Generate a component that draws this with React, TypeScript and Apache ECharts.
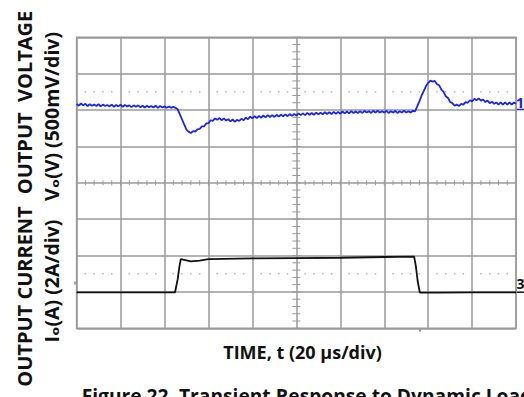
import React, { useEffect, useRef } from "react";
import * as echarts from "echarts";

// Scope screen: 10 horizontal divisions (20 µs/div), 8 vertical divisions
const X_DIVS = 10;
const Y_DIVS = 8;
const MINOR_PER_DIV = 5;
const CENTER_X = 5;
const CENTER_Y = 4;
const DOTTED_LEVELS = [6.5, 1.5];

// Channel 1 (output voltage), sampled every 0.05 div, values in divisions
const BLUE_STEP = 0.05;
const blueValues = [
  6.17, 6.12, 6.18, 6.13, 6.17, 6.11, 6.16, 6.12, 6.15, 6.11,
  6.16, 6.10, 6.15, 6.11, 6.14, 6.10, 6.15, 6.09, 6.14, 6.10,
  6.15, 6.09, 6.14, 6.10, 6.13, 6.08, 6.13, 6.09, 6.13, 6.08,
  6.12, 6.07, 6.12, 6.08, 6.11, 6.07, 6.12, 6.06, 6.11, 6.07,
  6.10, 6.06, 6.10, 6.06, 6.09, 6.06, 6.02, 5.88, 5.74, 5.60,
  5.46, 5.40, 5.37, 5.42, 5.41, 5.47, 5.48, 5.55, 5.55, 5.63,
  5.64, 5.72, 5.70, 5.77, 5.73, 5.78, 5.72, 5.77, 5.71, 5.75,
  5.69, 5.74, 5.68, 5.73, 5.70, 5.76, 5.72, 5.79, 5.75, 5.82,
  5.77, 5.83, 5.78, 5.84, 5.79, 5.85, 5.80, 5.86, 5.81, 5.86,
  5.81, 5.87, 5.82, 5.87, 5.83, 5.88, 5.83, 5.89, 5.84, 5.89,
  5.85, 5.91, 5.86, 5.91, 5.86, 5.92, 5.87, 5.92, 5.87, 5.93,
  5.88, 5.93, 5.88, 5.94, 5.89, 5.94, 5.89, 5.95, 5.90, 5.95,
  5.90, 5.96, 5.91, 5.96, 5.91, 5.97, 5.92, 5.96, 5.92, 5.97,
  5.92, 5.98, 5.93, 5.97, 5.92, 5.98, 5.93, 5.98, 5.93, 5.97,
  5.93, 5.98, 5.92, 5.97, 5.93, 5.98, 5.92, 5.97, 5.93, 5.98,
  5.93, 5.97, 5.93, 5.98, 5.96, 6.10, 6.24, 6.40, 6.53, 6.66,
  6.75, 6.81, 6.78, 6.80, 6.71, 6.68, 6.56, 6.50, 6.38, 6.33,
  6.22, 6.19, 6.12, 6.15, 6.11, 6.17, 6.15, 6.22, 6.20, 6.27,
  6.24, 6.31, 6.27, 6.32, 6.26, 6.29, 6.22, 6.26, 6.19, 6.23,
  6.17, 6.21, 6.15, 6.21, 6.15, 6.21, 6.15, 6.21, 6.15, 6.21,
  6.17,
];

// Channel 3 (output current), key points: time (div) and level (div)
const blackTime = [0, 1, 2.0, 2.24, 2.3, 2.34, 2.37, 2.45, 2.6, 2.8, 3.0, 4.0, 5.0, 6.0, 7.0, 7.68, 7.72, 7.76, 7.81, 8.2, 9.0, 10];
const blackValues = [0.99, 0.99, 0.99, 0.99, 1.35, 1.7, 1.90, 1.88, 1.84, 1.86, 1.90, 1.92, 1.93, 1.94, 1.96, 1.97, 1.7, 1.3, 0.98, 0.98, 0.99, 0.99];

const GRID_COLOR = "#9a9a9a";
const DOT_COLOR = "#b8b8b8";
const BLUE = "#1a26f0";
const FONT = '"Open Sans", "DejaVu Sans", sans-serif';

export default function App() {
  const ref = useRef<HTMLDivElement>(null);
  useEffect(() => {
    if (!ref.current) return;
    const chart = echarts.init(ref.current, null, { renderer: "svg" });
    const blueData = blueValues.map((v, i) => [i * BLUE_STEP, v]);
    const blackData = blackTime.map((t, i) => [t, blackValues[i]]);

    const overlay = (params: any, api: any) => {
      const children: any[] = [];
      const tickStyle = { stroke: GRID_COLOR, lineWidth: 1 };
      const step = 1 / MINOR_PER_DIV;
      for (let k = 0; k <= X_DIVS * MINOR_PER_DIV; k++) {
        const p = api.coord([k * step, CENTER_Y]);
        children.push({ type: "line", shape: { x1: p[0], y1: p[1] - 2.5, x2: p[0], y2: p[1] + 2.5 }, style: tickStyle });
      }
      for (let k = 0; k <= Y_DIVS * MINOR_PER_DIV; k++) {
        const p = api.coord([CENTER_X, k * step]);
        children.push({ type: "line", shape: { x1: p[0] - 4, y1: p[1], x2: p[0] + 4, y2: p[1] }, style: tickStyle });
      }
      DOTTED_LEVELS.forEach((lvl) => {
        for (let k = 1; k < X_DIVS * MINOR_PER_DIV; k++) {
          if (k % MINOR_PER_DIV === 0) continue;
          const p = api.coord([k * step, lvl]);
          children.push({ type: "rect", shape: { x: p[0] - 0.75, y: p[1] - 0.75, width: 1.5, height: 1.5 }, style: { fill: DOT_COLOR } });
        }
      });
      return { type: "group", children };
    };

    const axisCommon = {
      type: "value",
      axisLine: { show: false },
      axisTick: { show: false },
      axisLabel: { show: false },
      splitLine: { show: true, lineStyle: { color: GRID_COLOR, width: 1.5 } },
    };

    const txt = (x: number, y: number, text: string, size: number, extra: any = {}) => ({
      type: "text",
      x,
      y,
      rotation: extra.rotation || 0,
      silent: true,
      style: {
        text,
        fill: extra.fill || "#111",
        font: `bold ${size}px ${FONT}`,
        textAlign: extra.align || "center",
        textVerticalAlign: "middle",
      },
    });

    chart.setOption({
      animation: false,
      backgroundColor: "#fff",
      grid: {
        left: 76.6,
        top: 37.3,
        width: 439.5,
        height: 291,
        show: true,
        borderColor: GRID_COLOR,
        borderWidth: 1.5,
        backgroundColor: "transparent",
      },
      xAxis: { ...axisCommon, min: 0, max: X_DIVS, interval: 1 },
      yAxis: { ...axisCommon, min: 0, max: Y_DIVS, interval: 1 },
      series: [
        { type: "custom", renderItem: overlay, data: [[0, 0]], silent: true, z: 1 },
        {
          type: "line",
          data: blueData,
          showSymbol: false,
          silent: true,
          lineStyle: { color: BLUE, width: 1.8 },
          z: 3,
        },
        {
          type: "line",
          data: blackData,
          showSymbol: false,
          silent: true,
          lineStyle: { color: "#111", width: 1.8 },
          z: 3,
        },
      ],
      graphic: [
        txt(24, 102.5, "OUTPUT  VOLTAGE", 20, { rotation: Math.PI / 2 }),
        txt(24, 296.5, "OUTPUT CURRENT", 20, { rotation: Math.PI / 2 }),
        txt(51.5, 116.5, "Vₒ(V) (500mV/div)", 19.5, { rotation: Math.PI / 2 }),
        txt(51.5, 281, "Iₒ(A) (2A/div)", 19.5, { rotation: Math.PI / 2 }),
        txt(302.5, 352, "TIME, t (20 µs/div)", 18, { align: "center" }),
        txt(81.7, 395, "Figure 22. Transient Response to Dynamic Load", 19.2, { align: "left" }),
        txt(520, 102, "1", 15, { fill: BLUE }),
        { type: "line", silent: true, shape: { x1: 516, y1: 109.5, x2: 524, y2: 109.5 }, style: { stroke: BLUE, lineWidth: 1.5 } },
        txt(520.5, 283.5, "3", 14),
        { type: "line", silent: true, shape: { x1: 516, y1: 292.2, x2: 524, y2: 292.2 }, style: { stroke: "#111", lineWidth: 1.5 } },
        { type: "line", silent: true, shape: { x1: 75, y1: 281.5, x2: 75, y2: 284.5 }, style: { stroke: "#555", lineWidth: 1 } },
        { type: "line", silent: true, shape: { x1: 420, y1: 329.5, x2: 420, y2: 331.5 }, style: { stroke: "#333", lineWidth: 1.2 } },
      ],
    });
    return () => chart.dispose();
  }, []);
  return <div ref={ref} style={{ position: "absolute", left: 0, top: 0, width: 524, height: 397 }} />;
}
